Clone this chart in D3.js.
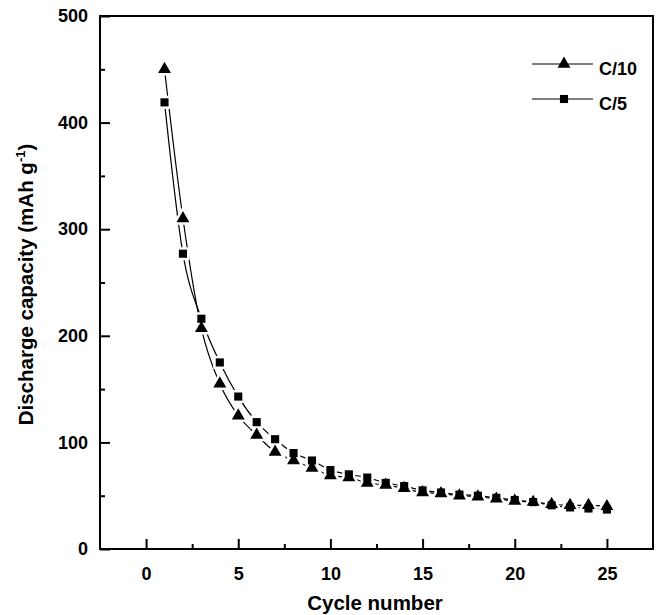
<!DOCTYPE html>
<html><head><meta charset="utf-8">
<script src="https://cdnjs.cloudflare.com/ajax/libs/d3/7.8.5/d3.min.js"></script>
<style>body{margin:0;background:#fff}svg{display:block}text{font-family:"Liberation Sans",Arial,sans-serif;font-weight:bold}</style>
</head><body><svg id="c" width="656" height="615"></svg>
<script>
const cycles = d3.range(1, 26);
const c10 = [450,310,207,155,125,107,91,83,76,69,67,62,60,57,53,52,50,49,47,45,44,42,41,41,40];
const c5  = [419,277,216,175,143,119,103,90,83,74,70,67,62,59,55,53,51,50,48,46,44,41,39,38,37];
const xTicks = [0,5,10,15,20,25];
const xMinor = [2.5,7.5,12.5,17.5,22.5];
const yTicks = [0,100,200,300,400,500];
const yMinor = [50,150,250,350,450];
const seriesNames = ["C/10","C/5"];

const svg = d3.select("#c");
const L=100,R=653,T=16,B=549;
const x = d3.scaleLinear().domain([-2.5,27.5]).range([L,R]);
const y = d3.scaleLinear().domain([0,500]).range([B,T]);

// frame
svg.append("rect").attr("x",L).attr("y",T).attr("width",R-L).attr("height",B-T)
  .attr("fill","none").attr("stroke","#000").attr("stroke-width",2);

// x axis ticks (inward)
const gx = svg.append("g").attr("transform",`translate(0,${B})`)
  .call(d3.axisBottom(x).tickValues(xTicks).tickSizeInner(-10).tickSizeOuter(0).tickPadding(18));
gx.select(".domain").remove();
gx.selectAll(".tick line").attr("stroke-width",2);
gx.selectAll(".tick text").attr("font-size",18).attr("fill","#000");
const gx2 = svg.append("g").attr("transform",`translate(0,${B})`)
  .call(d3.axisBottom(x).tickValues(xMinor).tickSizeInner(-5).tickSizeOuter(0).tickFormat(""));
gx2.select(".domain").remove();
gx2.selectAll(".tick line").attr("stroke-width",2);

const gy = svg.append("g").attr("transform",`translate(${L},0)`)
  .call(d3.axisLeft(y).tickValues(yTicks).tickSizeInner(-10).tickSizeOuter(0).tickPadding(12));
gy.select(".domain").remove();
gy.selectAll(".tick line").attr("stroke-width",2);
gy.selectAll(".tick text").attr("font-size",18).attr("fill","#000");
const gy2 = svg.append("g").attr("transform",`translate(${L},0)`)
  .call(d3.axisLeft(y).tickValues(yMinor).tickSizeInner(-5).tickSizeOuter(0).tickFormat(""));
gy2.select(".domain").remove();
gy2.selectAll(".tick line").attr("stroke-width",2);

// titles
svg.append("text").attr("x",375).attr("y",610).attr("text-anchor","middle").attr("font-size",20.5).text("Cycle number");
const yt = svg.append("text").attr("transform",`translate(33,${(T+B)/2+2}) rotate(-90)`).attr("text-anchor","middle").attr("font-size",20.5);
yt.append("tspan").text("Discharge capacity (mAh g");
yt.append("tspan").attr("font-size",13).attr("dy",-8).text("-1");
yt.append("tspan").attr("dy",8).text(")");

const line = d3.line().x((d,i)=>x(cycles[i])).y(d=>y(d)).curve(d3.curveMonotoneX);
const tri = d3.symbol().type(d3.symbolTriangle).size(72);
const sq = d3.symbol().type(d3.symbolSquare).size(66);

[c10,c5].forEach(s=>{
  svg.append("path").attr("d",line(s)).attr("fill","none").attr("stroke","#000").attr("stroke-width",1.2);
});
function markers(s,sym,halo){
  svg.append("g").selectAll("path").data(s).join("path")
    .attr("transform",(d,i)=>`translate(${x(cycles[i])},${y(d)})`)
    .attr("d",sym).attr("fill",halo?"#fff":"#000").attr("stroke",halo?"#fff":"none").attr("stroke-width",halo?5:0);
}
markers(c5,sq,true);
markers(c10,tri,true);
markers(c5,sq,false);
markers(c10,tri,false);

// legend
const leg = [{name:seriesNames[0],sym:tri,ly:64},{name:seriesNames[1],sym:sq,ly:99}];
leg.forEach(l=>{
  svg.append("line").attr("x1",532).attr("x2",593).attr("y1",l.ly).attr("y2",l.ly).attr("stroke","#000").attr("stroke-width",1.2);
  svg.append("path").attr("d",l.sym).attr("transform",`translate(564,${l.ly})`).attr("fill","#000");
  svg.append("text").attr("x",599).attr("y",l.ly+11).attr("font-size",18).text(l.name);
});
</script></body></html>
